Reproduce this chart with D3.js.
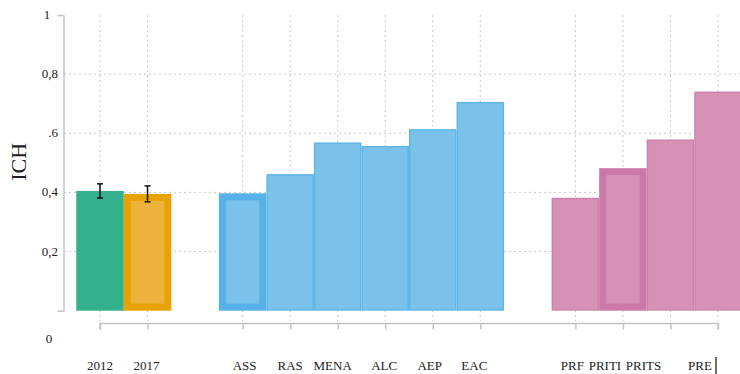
<!DOCTYPE html>
<html>
<head>
<meta charset="utf-8">
<script src="https://cdn.jsdelivr.net/npm/d3@7"></script>
<style>
  html, body { margin: 0; padding: 0; background: #fff; }
  svg { display: block; }
  text { font-family: "Liberation Serif", "Times New Roman", serif; fill: #222; }
</style>
</head>
<body>
<svg id="chart" width="740" height="374"></svg>
<script>
// Indicator values by period, region and group
const categories = ["2012", "2017", "ASS", "RAS", "MENA", "ALC", "AEP", "EAC", "PRF", "PRITI", "PRITS", "PRE"];
const groups     = ["2012", "2017", "reg", "reg", "reg", "reg", "reg", "reg", "inc", "inc", "inc", "inc"];
const values     = [0.405, 0.395, 0.397, 0.462, 0.569, 0.557, 0.614, 0.706, 0.382, 0.482, 0.579, 0.741];
const errors     = [0.024, 0.027, null, null, null, null, null, null, null, null, null, null];
const emphasized = ["2017", "ASS", "PRITI"];

// Axis ticks
const yTicks      = [0.2, 0.4, 0.6, 0.8];
const yTickLabels = ["0,2", "0,4", ".6", "0,8"];
const yTitle = "ICH";

// Layout: category slots include one empty slot between each block
const slotDomain = ["2012", "2017", "gap1", "ASS", "RAS", "MENA", "ALC", "AEP", "EAC", "gap2", "PRF", "PRITI", "PRITS", "PRE"];
const labelNudge = [0, -1, 2, 0, -5, -1, -3, -6, -3, -18, -27, -18];

const palette = {
  "2012": { fill: "#35b08e", edge: "#35b08e", strong: "#2ea584" },
  "2017": { fill: "#ebb33c", edge: "#e8a202", strong: "#e8a202" },
  "reg":  { fill: "#7bc2ea", edge: "#5fb6e7", strong: "#56b1e6" },
  "inc":  { fill: "#d592b6", edge: "#cd82ad", strong: "#cb79a9" }
};

const svg = d3.select("#chart");

const x = d3.scalePoint().domain(slotDomain).range([100, 718]).padding(0);
const step = x.step();
const y = d3.scaleLinear().domain([0, 1]).range([310.7, 15]);

const gridColor = "#c9c9c9";

// Horizontal dotted gridlines
svg.append("g").selectAll("line").data(yTicks).join("line")
  .attr("x1", 64).attr("x2", 740)
  .attr("y1", d => y(d)).attr("y2", d => y(d))
  .attr("stroke", gridColor).attr("stroke-width", 1)
  .attr("stroke-dasharray", "2,3");

// Vertical dotted gridlines at each category
svg.append("g").selectAll("line").data(categories).join("line")
  .attr("x1", d => x(d)).attr("x2", d => x(d))
  .attr("y1", y(1)).attr("y2", 321)
  .attr("stroke", gridColor).attr("stroke-width", 1)
  .attr("stroke-dasharray", "2,3");

// Bars
const bars = categories.map((c, i) => ({ c, g: groups[i], v: values[i], e: errors[i], hi: emphasized.includes(c) }));

const barG = svg.append("g");
bars.forEach(b => {
  const col = palette[b.g];
  const x0 = x(b.c) - step / 2;
  const y0 = y(b.v);
  const h = y(0) - y0;
  const sw = b.hi ? 7 : 1.5;
  barG.append("rect")
    .attr("x", x0 + sw / 2).attr("y", y0 + sw / 2)
    .attr("width", step - sw).attr("height", h - sw)
    .attr("fill", col.fill)
    .attr("stroke", b.hi ? col.strong : col.edge)
    .attr("stroke-width", sw);
});

// Error bars
const errG = svg.append("g").attr("stroke", "#111").attr("stroke-width", 1.5);
bars.filter(b => b.e != null).forEach(b => {
  const cx = x(b.c);
  const top = y(b.v + b.e), bot = y(b.v - b.e);
  errG.append("line").attr("x1", cx).attr("x2", cx).attr("y1", top).attr("y2", bot);
  errG.append("line").attr("x1", cx - 3).attr("x2", cx + 3).attr("y1", top).attr("y2", top);
  errG.append("line").attr("x1", cx - 3).attr("x2", cx + 3).attr("y1", bot).attr("y2", bot);
});

// Y axis: bracket-shaped line with labelled ticks
const axisColor = "#c4c4c4";
const yAxis = d3.axisLeft(y).tickValues([0, 1]).tickSize(6).tickSizeOuter(0).tickFormat("");
svg.append("g").attr("transform", "translate(63.5,0)").call(yAxis)
  .call(g => g.selectAll("path, line").attr("stroke", axisColor).attr("stroke-width", 1.5));

svg.append("g").selectAll("text").data(yTicks).join("text")
  .attr("x", 58).attr("y", d => y(d) + 4)
  .attr("text-anchor", "end")
  .attr("font-size", 13)
  .text((d, i) => yTickLabels[i]);

svg.append("text").attr("x", 47).attr("y", y(1) + 4)
  .attr("text-anchor", "middle").attr("font-size", 13).text("1");
svg.append("text").attr("x", 49).attr("y", 343)
  .attr("text-anchor", "middle").attr("font-size", 13).text("0");

svg.append("text")
  .attr("transform", `translate(26,${y(0.5) - 1}) rotate(-90)`)
  .attr("text-anchor", "middle")
  .attr("font-size", 22)
  .text(yTitle);

// X axis: line with a tick under each category
const xAxis = d3.axisBottom(x).tickValues(categories).tickSize(6).tickSizeOuter(0).tickFormat("");
svg.append("g").attr("transform", "translate(0,323.5)").call(xAxis)
  .call(g => g.selectAll("path, line").attr("stroke", axisColor).attr("stroke-width", 1.5))
  .call(g => g.select(".domain").attr("d", `M${x("2012")},6V0H${x("PRE")}V6`));

// Category labels
svg.append("g").selectAll("text").data(categories).join("text")
  .attr("x", (d, i) => x(d) + labelNudge[i])
  .attr("y", 370)
  .attr("text-anchor", "middle")
  .attr("font-size", 13)
  .text(d => d);

// Divider mark after the last label
svg.append("line")
  .attr("x1", 716).attr("x2", 716).attr("y1", 357).attr("y2", 374)
  .attr("stroke", "#222").attr("stroke-width", 1.3);
</script>
</body>
</html>
